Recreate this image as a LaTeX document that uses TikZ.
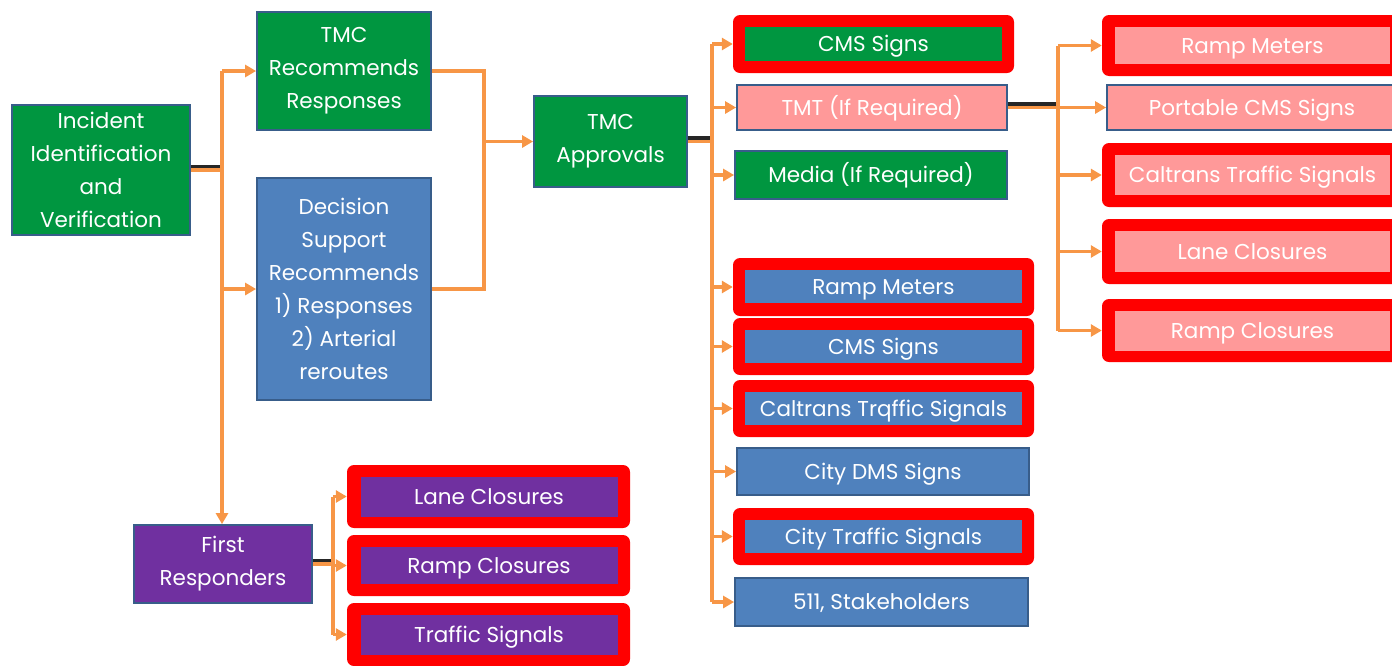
\documentclass[tikz,border=0pt]{standalone}
\usepackage{fontspec}
\setmainfont{Poppins}
\usetikzlibrary{arrows.meta}
\definecolor{boxgreen}{RGB}{0,150,64}
\definecolor{boxblue}{RGB}{79,129,189}
\definecolor{boxpurple}{RGB}{112,48,160}
\definecolor{boxpink}{RGB}{255,153,153}
\definecolor{boxborder}{RGB}{56,93,138}
\definecolor{connorange}{RGB}{247,150,70}
\definecolor{framered}{RGB}{255,0,0}
\begin{document}
\begin{tikzpicture}[x=1pt,y=-1pt,
  txt/.style={text=white, align=center, inner sep=0pt, font=\fontsize{21.5}{33}\selectfont},
  sline/.style={text height=15.5pt, text depth=0pt},
  box/.style={txt, draw=boxborder, line width=1.8pt},
  gbox/.style={box, fill=boxgreen},
  bbox/.style={box, fill=boxblue},
  pbox/.style={box, fill=boxpurple},
  kbox/.style={box, fill=boxpink},
  frame/.style={fill=framered, rounded corners=7pt, inner sep=0pt},
  gin/.style={txt, sline, fill=boxgreen},
  bin/.style={txt, sline, fill=boxblue},
  pin/.style={txt, sline, fill=boxpurple},
  kin/.style={txt, sline, fill=boxpink},
  conn/.style={draw=connorange, line width=3.2pt},
  arr/.style={conn, -{Triangle[length=11pt,width=12pt]}},
  stemshadow/.style={draw=black!85, line width=3.5pt}
]
\useasboundingbox (0,0) rectangle (1392,665);

% ---------- left part ----------
\node[gbox, minimum width=178pt, minimum height=130pt] (inc) at (101,170) {Incident\\Identification\\and\\Verification};
\node[gbox, minimum width=174pt, minimum height=118pt] (tmcrec) at (344,71) {TMC\\Recommends\\Responses};
\node[bbox, minimum width=174pt, minimum height=222pt] (dss) at (344,289) {Decision\\Support\\Recommends\\1) Responses\\2) Arterial\\reroutes};
\node[gbox, minimum width=153pt, minimum height=91pt] (appr) at (610.5,141.5) {TMC\\Approvals};
\node[pbox, minimum width=178pt, minimum height=78pt] (fr) at (223,564) {First\\Responders};

% first responders outputs
\node[frame, minimum width=283pt, minimum height=63pt] (lco) at (488.5,496.5) {};
\node[pin, minimum width=257pt, minimum height=40pt] (lci) at (489,497) {Lane Closures};
\node[frame, minimum width=283pt, minimum height=61pt] (rco) at (488.5,565.5) {};
\node[pin, minimum width=257pt, minimum height=37pt] (rci) at (489,565.5) {Ramp Closures};
\node[frame, minimum width=283pt, minimum height=63pt] (tso) at (488.5,634.5) {};
\node[pin, minimum width=257pt, minimum height=40pt] (tsi) at (489,635) {Traffic Signals};

% ---------- middle column ----------
\node[frame, minimum width=281pt, minimum height=58pt] (cmsao) at (873.5,44) {};
\node[gin, minimum width=257pt, minimum height=34pt] (cmsai) at (873.5,44) {CMS Signs};
\node[kbox, sline, minimum width=270pt, minimum height=45pt] (tmt) at (872,107.5) {TMT (If Required)};
\node[gbox, sline, minimum width=272pt, minimum height=48pt] (media) at (871,175) {Media (If Required)};
\node[frame, minimum width=301pt, minimum height=58pt] (rmo) at (883.5,287) {};
\node[bin, minimum width=277pt, minimum height=33pt] (rmi) at (883.5,286.5) {Ramp Meters};
\node[frame, minimum width=301pt, minimum height=57pt] (cmsbo) at (883.5,346.5) {};
\node[bin, minimum width=277pt, minimum height=33pt] (cmsbi) at (883.5,346.5) {CMS Signs};
\node[frame, minimum width=301pt, minimum height=57pt] (ctro) at (883.5,408.5) {};
\node[bin, minimum width=277pt, minimum height=33pt] (ctri) at (883.5,408.5) {Caltrans Trqffic Signals};
\node[bbox, sline, minimum width=292pt, minimum height=47pt] (cdms) at (883,471.5) {City DMS Signs};
\node[frame, minimum width=301pt, minimum height=57pt] (ctso) at (883.5,536.5) {};
\node[bin, minimum width=277pt, minimum height=33pt] (ctsi) at (883.5,536.5) {City Traffic Signals};
\node[bbox, sline, minimum width=293pt, minimum height=48pt] (s511) at (881.5,602) {511, Stakeholders};

% ---------- right column ----------
\node[frame, minimum width=301pt, minimum height=61pt] (rrmo) at (1252.5,45.5) {};
\node[kin, minimum width=275pt, minimum height=37pt] (rrmi) at (1252.5,45.5) {Ramp Meters};
\node[kbox, sline, minimum width=290pt, minimum height=45pt] (pcms) at (1252,107.5) {Portable CMS Signs};
\node[frame, minimum width=301pt, minimum height=64pt] (rcto) at (1252.5,175) {};
\node[kin, minimum width=275pt, minimum height=40pt] (rcti) at (1252.5,175) {Caltrans Traffic Signals};
\node[frame, minimum width=301pt, minimum height=65pt] (rlco) at (1252.5,251.5) {};
\node[kin, minimum width=275pt, minimum height=41pt] (rlci) at (1252.5,251.5) {Lane Closures};
\node[frame, minimum width=301pt, minimum height=63pt] (rrco) at (1252.5,330.5) {};
\node[kin, minimum width=275pt, minimum height=40pt] (rrci) at (1252.5,331) {Ramp Closures};

% ---------- junction coordinates ----------
\coordinate (j1) at (222,170);
\coordinate (j2) at (484,141.5);
\coordinate (j3) at (712,141.5);
\coordinate (j4) at (1058,107.5);
\coordinate (j5) at (333,564);

% ---------- stem shadows ----------
\draw[stemshadow] ([yshift=3.5pt]inc.east) -- ([yshift=3.5pt]j1);
\draw[stemshadow] ([yshift=3.5pt]appr.east) -- ([yshift=3.5pt]j3);
\draw[stemshadow] ([yshift=3.5pt]tmt.east) -- ([yshift=3.5pt]j4);
\draw[stemshadow] ([yshift=3.5pt]fr.east) -- ([yshift=3.5pt]j5);

% ---------- connectors ----------
% incident -> tmc rec / dss / first responders
\draw[conn] (inc.east) -- (j1);
\draw[conn] (j1 |- tmcrec.west) -- (j1);
\draw[arr] (j1 |- tmcrec.west) -- (tmcrec.west);
\draw[arr] (j1 |- dss.west) -- (dss.west);
\draw[arr] (j1) -- (j1 |- fr.north);

% tmc rec / dss -> approvals
\draw[conn] (tmcrec.east) -- (j2 |- tmcrec.east) -- (j2 |- dss.east) -- (dss.east);
\draw[arr] (j2) -- (appr.west);

% approvals -> middle column
\draw[conn] (appr.east) -- (j3);
\draw[conn] (j3 |- cmsao.west) -- (j3 |- s511.west);
\foreach \t in {cmsao,tmt,media,rmo,cmsbo,ctro,cdms,ctso,s511}
  \draw[arr] (j3 |- \t.west) -- (\t.west);

% tmt -> right column
\draw[conn] (tmt.east) -- (j4);
\draw[conn] (j4 |- rrmo.west) -- (j4 |- rrco.west);
\foreach \t in {rrmo,pcms,rcto,rlco,rrco}
  \draw[arr] (j4 |- \t.west) -- (\t.west);

% first responders -> outputs
\draw[conn] (fr.east) -- (j5);
\draw[conn] (j5 |- lco.west) -- (j5 |- tso.west);
\foreach \t in {lco,rco,tso}
  \draw[arr] (j5 |- \t.west) -- (\t.west);
\end{tikzpicture}
\end{document}
